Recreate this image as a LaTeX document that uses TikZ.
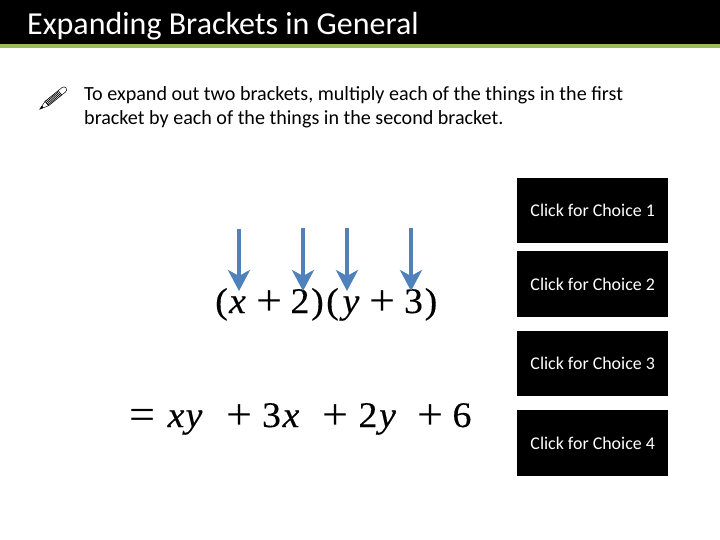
\documentclass[tikz,border=0pt]{standalone}
\usepackage{fontspec}
\usetikzlibrary{arrows.meta}
\setmainfont{Carlito}
\newfontfamily\mathser[FakeStretch=1.05,FakeBold=0.25]{Liberation Serif}
\newfontfamily\opser[FakeStretch=1.05]{Liberation Serif}
\definecolor{barGreen}{HTML}{9BBB59}
\definecolor{arrowBlue}{HTML}{4F81BD}
\tikzset{
  x=1pt,y=-1pt,
  choicebox/.style={fill=black,draw=none,minimum width=151pt,anchor=north west,inner sep=0pt,text=white,font=\fontsize{17.9}{20}\selectfont},
  downarrow/.style={draw=arrowBlue,line width=4.6pt,-{Stealth[length=21pt,width=22pt,inset=6pt]}},
  eqn/.style={anchor=base,inner sep=0pt,font=\fontsize{36}{40}\selectfont\mathser},
  eqnop/.style={anchor=base,inner sep=0pt,font=\fontsize{44}{48}\selectfont\opser},
  bodytext/.style={anchor=base west,inner sep=0pt,font=\fontsize{20.1}{24}\selectfont}
}
\begin{document}
\begin{tikzpicture}
\useasboundingbox (0,0) rectangle (720,540);
\fill[white] (0,0) rectangle (720,540);
\fill[black] (0,0) rectangle (720,44);
\fill[barGreen] (0,44) rectangle (720,48);
\node[anchor=base west,inner sep=0pt,text=white,font=\fontsize{32}{36}\selectfont] (title) at (27,34.5) {Expanding Brackets in General};
% pencil
\begin{scope}[shift={(53,98.5)},rotate=39]
 \draw[black,line width=.5pt,fill=white] (-8,-2.8) rectangle (9,2.8);
 \foreach \i in {-8,-6.5,...,8} \draw[black,line width=.7pt] (\i,-2.8) -- (\i+1,2.8);
 \draw[black,line width=.5pt,fill=white] (9,-2.8) -- (14,-2.8) arc[start angle=-90,end angle=90,radius=2.8] -- (9,2.8) -- cycle;
 \draw[black,line width=.5pt,fill=white] (-8,-2.8) -- (-17,0) -- (-8,2.8) -- cycle;
 \fill[black] (-17,0) -- (-13,-1.3) -- (-13,1.3) -- cycle;
\end{scope}
\node[bodytext] (l1) at (84,101) {To expand out two brackets, multiply each of the things in the first};
\node[bodytext] (l2) at (84,125) {bracket by each of the things in the second bracket.};
\node[choicebox,minimum height=65pt] (c1) at (517,178) {\raisebox{-0.8pt}{Click for Choice 1}};
\node[choicebox,minimum height=66pt] (c2) at (517,251) {Click for Choice 2};
\node[choicebox,minimum height=65pt] (c3) at (517,331) {\raisebox{-0.8pt}{Click for Choice 3}};
\node[choicebox,minimum height=66pt] (c4) at (517,410) {Click for Choice 4};
% equation 1
\foreach \n/\cx/\tok in {a/221.5/(,b/237.5/\itshape x,d/300/2,e/317.5/),f/332.5/(,g/351/\itshape y,i/413.5/3,j/431/)}
  \node[eqn] (eq\n) at (\cx,313) {\tok};
\foreach \n/\cx in {c/270,h/382.5}
  \node[eqnop] (eq\n) at (\cx,315.4) {+};
\coordinate (a1s) at (239,229); \coordinate (a1e) at (239,291);
\coordinate (a2s) at (303,228); \coordinate (a2e) at (303,291);
\coordinate (a3s) at (347,228); \coordinate (a3e) at (347,291);
\coordinate (a4s) at (411,228); \coordinate (a4e) at (411,291);
\draw[downarrow] (a1s) -- (a1e);
\draw[downarrow] (a2s) -- (a2e);
\draw[downarrow] (a3s) -- (a3e);
\draw[downarrow] (a4s) -- (a4e);
% equation 2
\foreach \n/\cx/\tok in {b/176/\itshape x,c/194/\itshape y,e/271.5/3,f/291/\itshape x,h/368/2,i/387.5/\itshape y,k/462/6}
  \node[eqn] (fq\n) at (\cx,427) {\tok};
\foreach \n/\cx/\tok in {a/142.5/=,d/239.5/+,g/335.5/+,j/430.5/+}
  \node[eqnop] (fq\n) at (\cx,429.4) {\tok};
\end{tikzpicture}
\end{document}
